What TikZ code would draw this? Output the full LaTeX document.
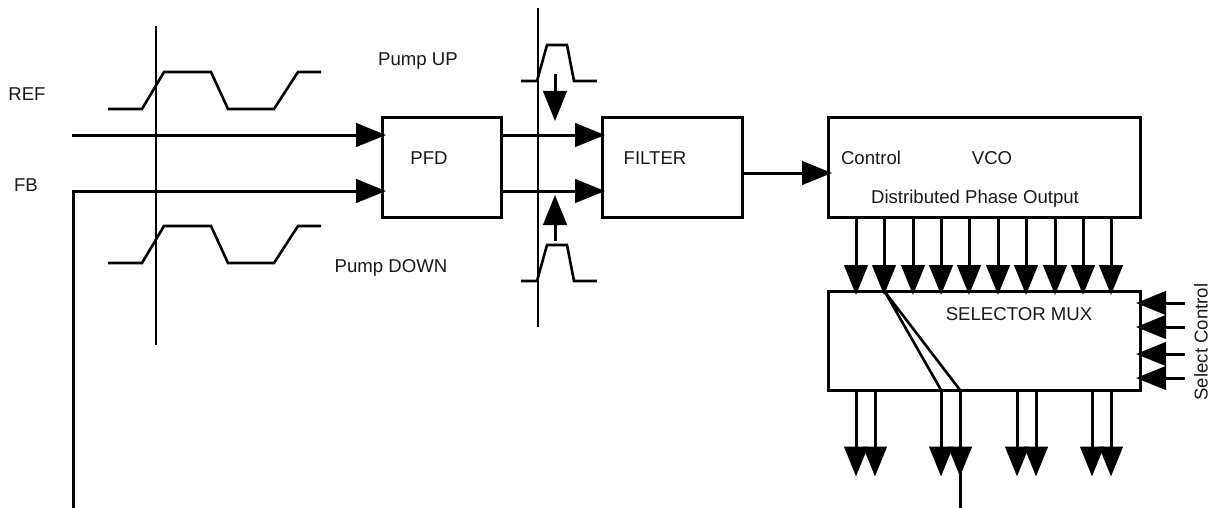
\documentclass[tikz,border=0pt]{standalone}
\usepackage{fontspec}
\setmainfont{Liberation Sans}
\usetikzlibrary{arrows.meta}
\tikzset{
  heavy/.style={line width=3pt},
  thinline/.style={line width=2pt},
  wave/.style={line width=2.6pt,line join=miter},
  sig/.style={line width=3pt,-{Triangle[length=30pt,width=23.5pt]}},
  blockbox/.style={draw,line width=3pt,inner sep=0pt,outer sep=0pt,anchor=north west},
  lbl/.style={inner sep=0pt,font=\fontsize{18.6}{20}\selectfont,text=black!90}
}
\begin{document}
\begin{tikzpicture}[x=1pt,y=-1pt]
\useasboundingbox (0,0) rectangle (1214,508);
% blocks
\node[blockbox,minimum width=119pt,minimum height=99pt] (pfd) at (382,118) {};
\node[blockbox,minimum width=140pt,minimum height=99pt] (filter) at (602,118) {};
\node[blockbox,minimum width=312pt,minimum height=99pt] (vco) at (828,118) {};
\node[blockbox,minimum width=312pt,minimum height=99pt] (mux) at (828,291) {};
% labels
\node[lbl] (tref) at (27,94) {REF};
\node[lbl] (tfb) at (26,185) {FB};
\node[lbl] (tup) at (418,61.5) {Pump UP};
\node[lbl] (tdown) at (391,268) {Pump DOWN};
\node[lbl] (tpfd) at (429,158) {PFD};
\node[lbl] (tfilter) at (655,158) {FILTER};
\node[lbl] (tctrl) at (871,158) {Control};
\node[lbl] (tvconame) at (992,158) {VCO};
\node[lbl] (tdist) at (975,199) {Distributed Phase Output};
\node[lbl] (tmux) at (1019,314) {SELECTOR MUX};
\node[lbl,rotate=90] (tsel) at (1201,342) {Select Control};
% cursors
\coordinate (c1a) at (156,26); \coordinate (c1b) at (156,345);
\coordinate (c2a) at (538,8);  \coordinate (c2b) at (538,327);
\draw[thinline] (c1a) -- (c1b);
\draw[thinline] (c2a) -- (c2b);
% waveforms
\draw[wave] (108,109) -- (142,109) -- (164,72) -- (211,72) -- (228,109) -- (274,109) -- (298,72) -- (321,72);
\draw[wave] (108,263) -- (142,263) -- (164,226) -- (211,226) -- (228,263) -- (274,263) -- (298,226) -- (321,226);
\draw[wave] (521,81) -- (537,81) -- (547,45) -- (567,45) -- (574,81) -- (597,81);
\draw[wave] (521,281) -- (537,281) -- (547,245) -- (567,245) -- (574,281) -- (597,281);
% inputs
\coordinate (refin) at (72,135); \coordinate (refpfd) at (386,135);
\coordinate (fbdown) at (73,508); \coordinate (fbcorner) at (73,191); \coordinate (fbpfd) at (386,191);
\draw[sig] (refin) -- (refpfd);
\draw[sig] (fbdown) -- (fbcorner) -- (fbpfd);
% pump
\coordinate (upa) at (501,135); \coordinate (upb) at (605,135);
\coordinate (dna) at (501,191); \coordinate (dnb) at (605,191);
\draw[sig] (upa) -- (upb);
\draw[sig] (dna) -- (dnb);
\coordinate (pua) at (555,74); \coordinate (pub) at (555,121);
\coordinate (pda) at (555,241); \coordinate (pdb) at (555,195);
\draw[sig] (pua) -- (pub);
\draw[sig] (pda) -- (pdb);
% filter to VCO
\coordinate (fout) at (742,173); \coordinate (vin) at (832,173);
\draw[sig] (fout) -- (vin);
% phases
\foreach \x in {856,884,913,941,969,998,1026,1055,1083,1111}{
  \coordinate (pa) at (\x,217); \coordinate (pb) at (\x,295);
  \draw[sig] (pa) -- (pb);
}
% outputs
\foreach \x in {856,875,941,960,1017,1036,1092,1111}{
  \coordinate (oa) at (\x,390); \coordinate (ob) at (\x,476.5);
  \draw[sig] (oa) -- (ob);
}
\coordinate (fbtail) at (960,508); \coordinate (fbtop) at (960,450);
\draw[heavy] (fbtop) -- (fbtail);
% mux diagonals
\coordinate (da) at (885,292); \coordinate (db) at (941,390); \coordinate (dc) at (960,390);
\draw[wave] (db) -- (da) -- (dc);
% select control
\foreach \y in {303,327,354,378}{
  \coordinate (sa) at (1185,\y); \coordinate (sb) at (1136,\y);
  \draw[sig] (sa) -- (sb);
}
\end{tikzpicture}
\end{document}
